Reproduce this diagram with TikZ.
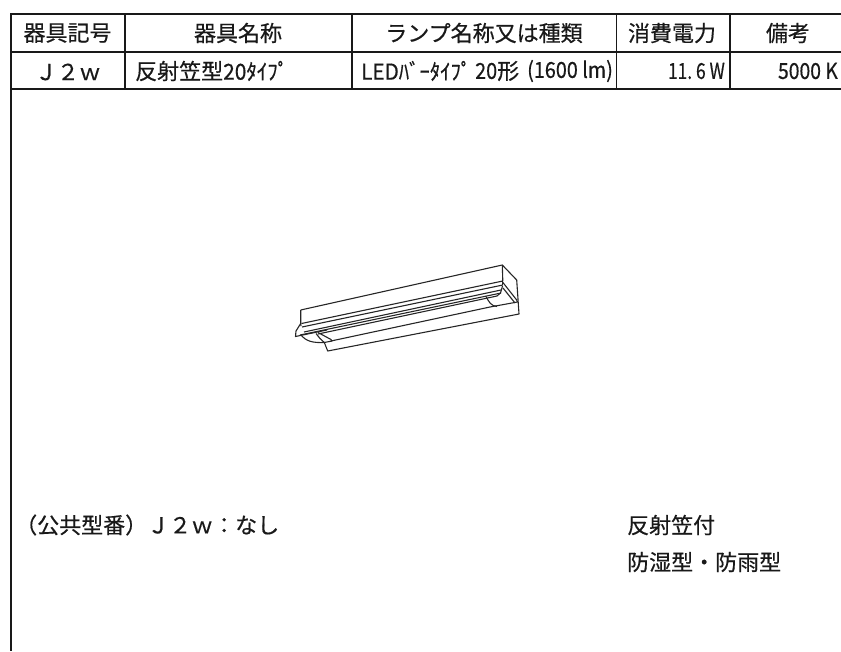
\documentclass[tikz,border=0pt]{standalone}
\usepackage{fontspec}
\setmainfont{Noto Sans CJK JP}[RawFeature={embolden=0.5}]
\tikzset{
  rule/.style={line width=1.6pt,black!90},
  fix/.style={line width=1.1pt,black!85,line join=round},
  txt/.style={inner sep=0pt,font=\fontsize{22}{22}\selectfont,text=black!90},
  narrow/.style={inner sep=0pt,anchor=west,text=black!90,font=\fontsize{22}{22}\selectfont}
}
\begin{document}
\begin{tikzpicture}[x=1pt,y=-1pt]
\useasboundingbox (0,0) rectangle (841,651);
% table
\draw[rule] (841,14) -- (11,14) -- (11,651);
\draw[rule] (11,52) -- (841,52);
\draw[rule] (11,89) -- (841,89);
\draw[rule] (125,14) -- (125,89);
\draw[rule] (352,14) -- (352,89);
\draw[rule] (616.5,14) -- (616.5,89);
\draw[rule] (730,14) -- (730,89);
% header
\node[txt] (h1) at (67.5,33) {器具記号};
\node[txt] (h2) at (238,33) {器具名称};
\node[txt] (h3) at (484,33) {ランプ名称又は種類};
\node[txt] (h4) at (672,33) {消費電力};
\node[txt] (h5) at (788,33) {備考};
% row
\node[txt] (r1) at (68,72) {Ｊ２ｗ};
\node[narrow] (r2a) at (135,71) {反射笠型};
\node[narrow,xscale=.95] (r2b) at (223,71) {20ﾀｲﾌﾟ};
\node[narrow,xscale=.94] (r3a) at (361,71) {LEDﾊﾞｰﾀｲﾌﾟ};
\node[narrow,xscale=.9] (r3b) at (475,71) {20};
\node[narrow] (r3c) at (497,71) {形};
\node[narrow,xscale=.9] (r3d) at (527,71) {(1600\hspace{.224em}lm)};
\node[narrow,anchor=east,xscale=.79] (r4) at (725,71) {11.\hspace{.224em}6\hspace{.224em}W};
\node[narrow,anchor=east,xscale=.88] (r5) at (838,71) {5000\hspace{.224em}K};
% lower text
\node[narrow] (p1) at (15,525) {（公共型番）Ｊ２ｗ：なし};
\node[narrow] (p2) at (627,525) {反射笠付};
\node[narrow] (p3) at (627,562) {防湿型・防雨型};
% luminaire
\draw[fix] (300.7,310) -- (502.3,265) -- (516.7,280) -- (519,314) -- (327.7,351) -- (324.3,342.5);
\draw[fix] (300.7,310) -- (300.7,323.5) -- (296,331) -- (295.5,336.5) -- (327,330);
\draw[fix] (502.3,265) -- (502.8,281) -- (301.5,323.5);
\draw[fix] (502.8,285) -- (302,327);
\draw[fix] (301,326) -- (300.7,323.5);
\draw[fix] (502.8,281) -- (502.8,285);
\draw[fix] (501,290) -- (304,332);
\draw[fix] (501,293) -- (300,335);
\draw[fix] (502.5,286) -- (500.5,293) -- (497,296);
\draw[fix] (502.5,282) -- (516.7,300) -- (517.5,302) -- (490,307);
\draw[fix] (503,288) -- (515,303);
\draw[fix] (497,296) -- (318,334);
\draw[fix] (490,307) -- (331,341);
\draw[fix] (486,296.5) .. controls (489,302) and (491,306) .. (497,306.5);
\draw[fix] (318,332.5) -- (331,339.5) -- (332,341) -- (324.3,342.5) -- (320,338.5) -- (316,333.5);
\draw[fix] (301,335) .. controls (306,341) and (312,343) .. (324.3,342.5);
\end{tikzpicture}
\end{document}
